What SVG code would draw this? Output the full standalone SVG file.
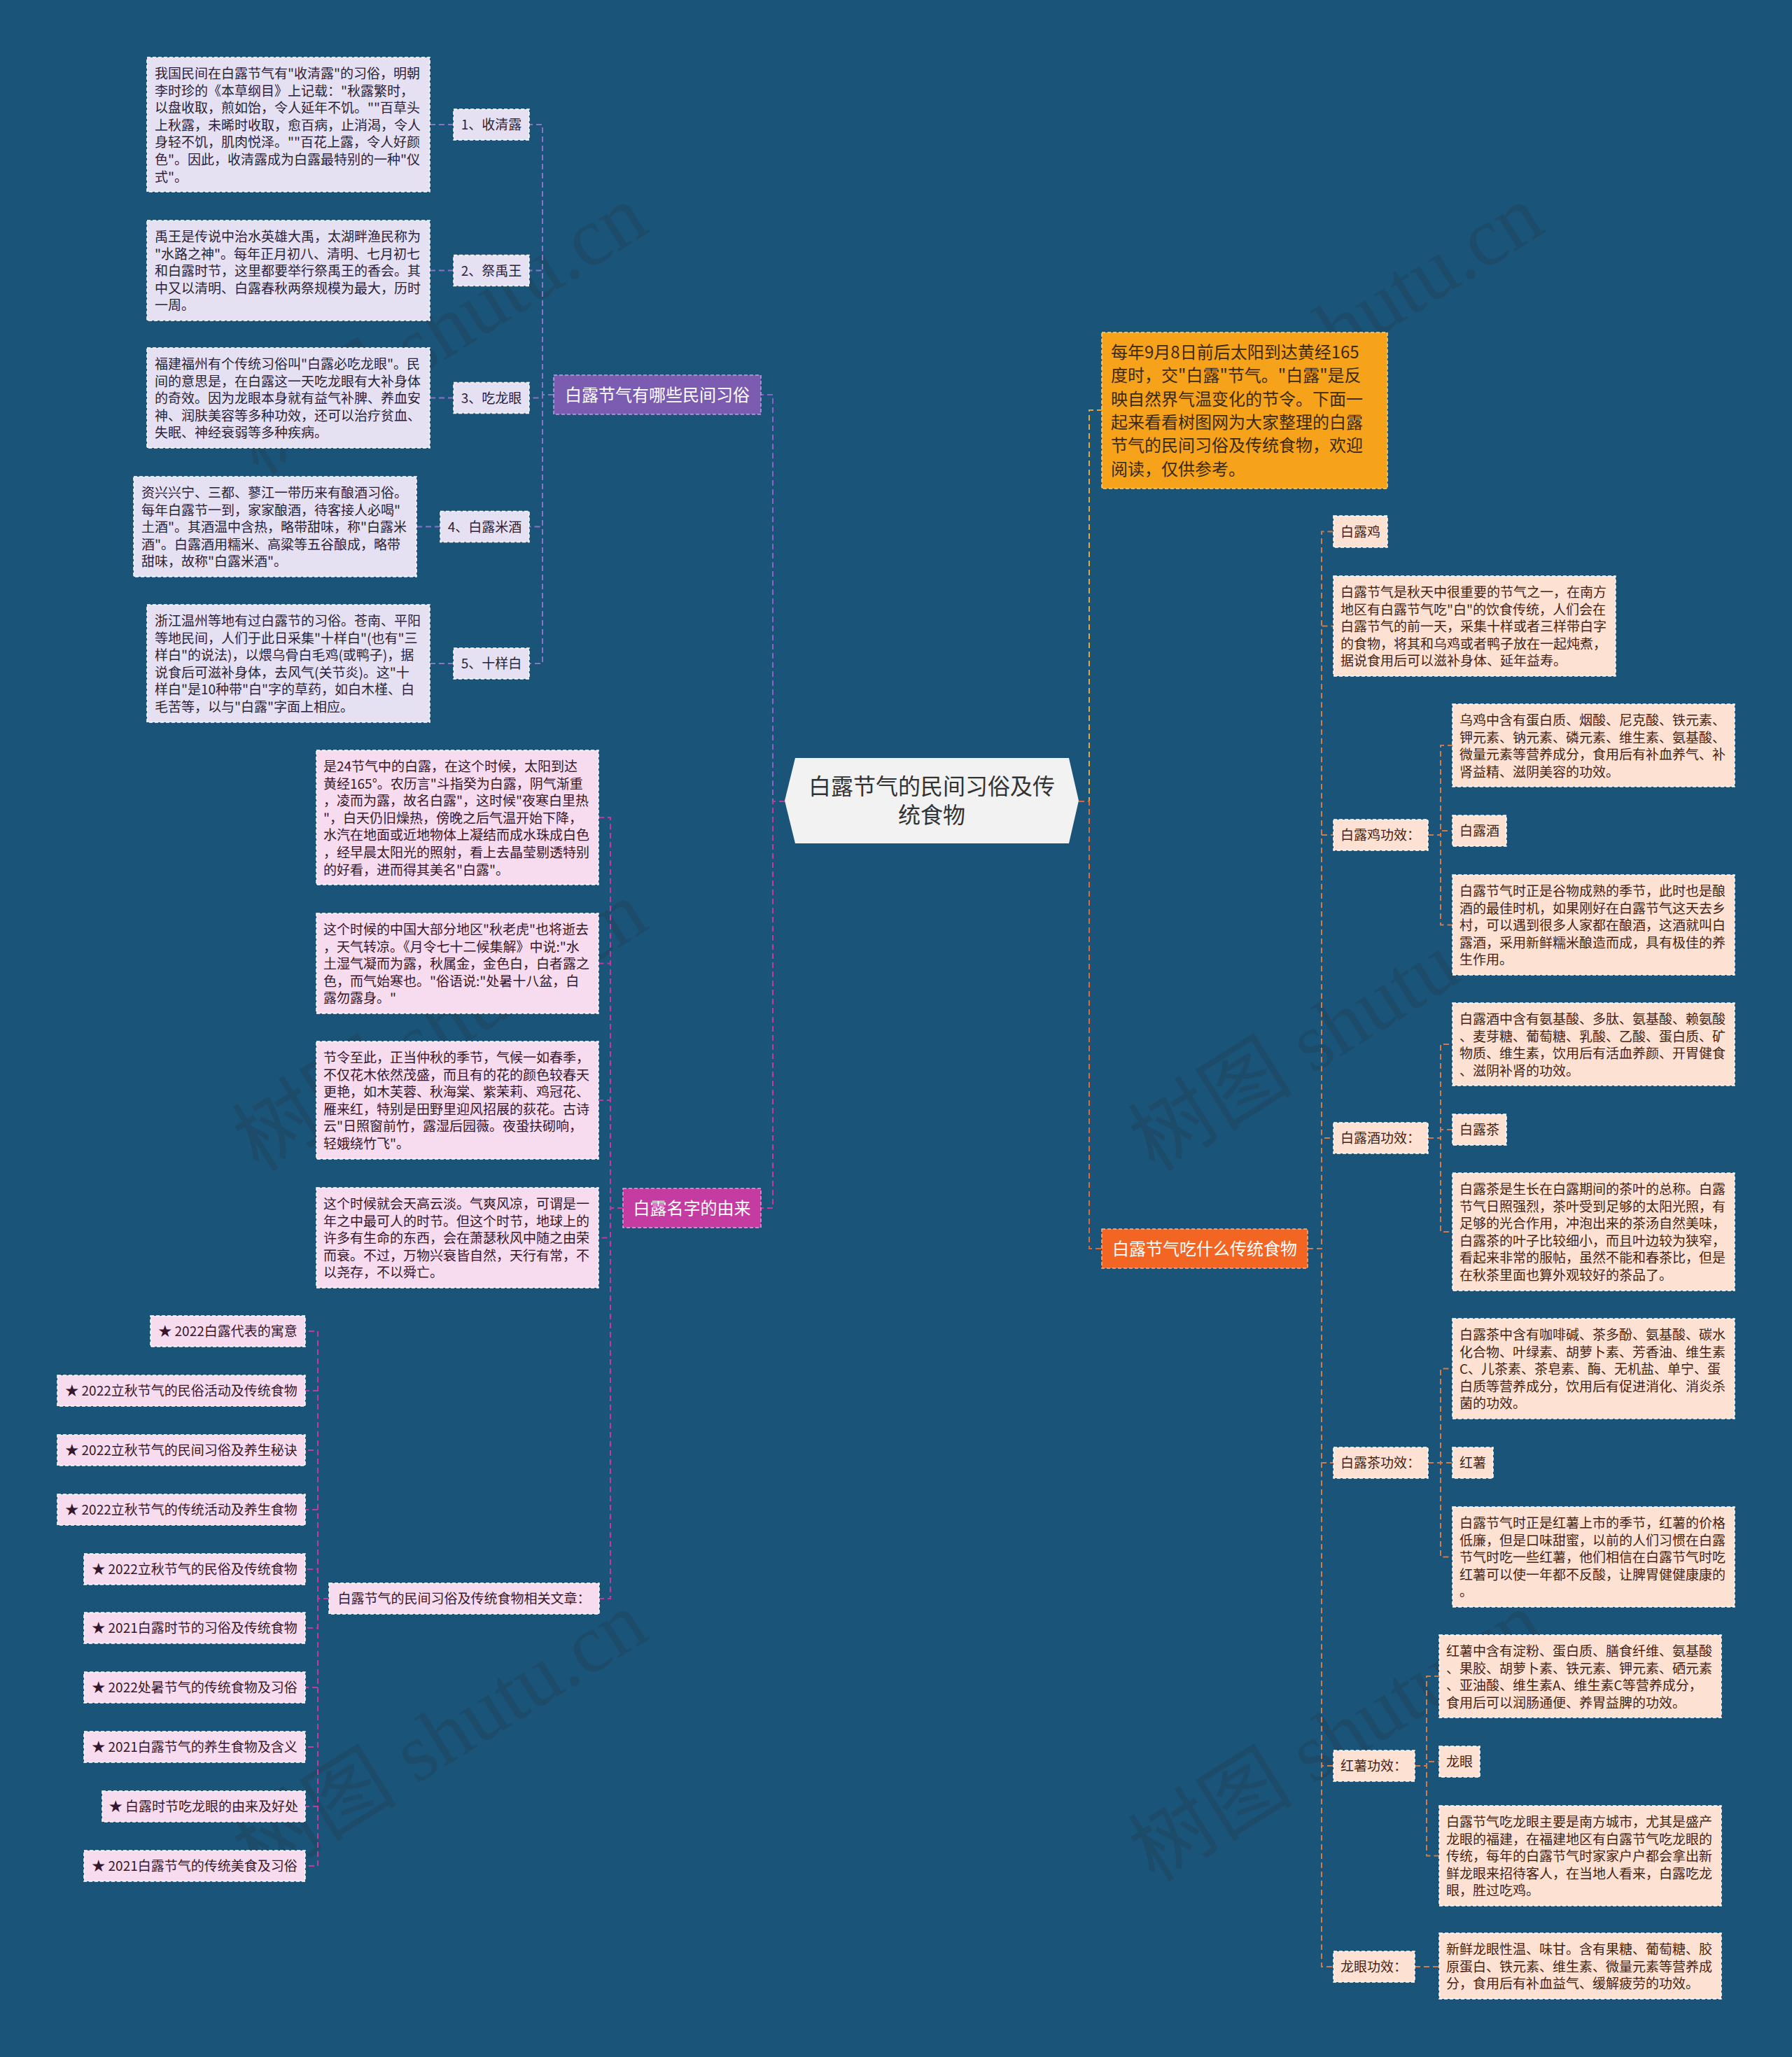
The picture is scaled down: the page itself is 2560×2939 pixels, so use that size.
<svg xmlns="http://www.w3.org/2000/svg" width="2560" height="2939" viewBox="0 0 2560 2939">
<style>
text{font-family:"Noto Sans CJK SC","Liberation Sans",sans-serif;}
.t{font-size:19px;}
.tl{fill:#2a2238;}
.tp{fill:#36162b;}
.tr{fill:#452212;}
.bl{fill:#e6e1f2;stroke:#ffffff;stroke-width:1.5;stroke-dasharray:5 3;}
.bp{fill:#f6dcee;stroke:#ffffff;stroke-width:1.5;stroke-dasharray:5 3;}
.br{fill:#fde2d4;stroke:#ffffff;stroke-width:1.5;stroke-dasharray:5 3;}
.c{fill:none;stroke-width:2;stroke-dasharray:8 5;}
.cpu{stroke:#8a74c6;}
.cmg{stroke:#c2399f;}
.cor{stroke:#cf7b4b;}
.wm{font-family:"Liberation Serif","Noto Sans CJK SC",serif;font-size:118px;fill:#2a2a2a;opacity:0.18;}
.mid{text-anchor:middle;}
</style>
<rect x="0" y="0" width="2560" height="2939" fill="#1a5479"/>

<g id="watermarks">
<text class="wm mid" transform="translate(650,505) rotate(-32)">树图 shutu.cn</text>
<text class="wm mid" transform="translate(1930,505) rotate(-32)">树图 shutu.cn</text>
<text class="wm mid" transform="translate(650,1500) rotate(-32)">树图 shutu.cn</text>
<text class="wm mid" transform="translate(1930,1500) rotate(-32)">树图 shutu.cn</text>
<text class="wm mid" transform="translate(650,2515) rotate(-32)">树图 shutu.cn</text>
<text class="wm mid" transform="translate(1930,2515) rotate(-32)">树图 shutu.cn</text>
</g>

<g id="connectors">
<path class="c" stroke="#8a63c8" d="M1121,1145 H1104 V564 H1087"/>
<path class="c" stroke="#c2399f" d="M1121,1145 H1104 V1726 H1087"/>
<path class="c" stroke="#eaa52a" d="M1541,1145 H1556 V586 H1574"/>
<path class="c" stroke="#e8662a" d="M1541,1145 H1556 V1784 H1574"/>

<path class="c cpu" d="M791,564 H775 V178 H756"/>
<path class="c cpu" d="M791,564 H775 V386.5 H756"/>
<path class="c cpu" d="M791,564 H775 V568.5 H756"/>
<path class="c cpu" d="M791,564 H775 V752.5 H756"/>
<path class="c cpu" d="M791,564 H775 V948 H756"/>
<path class="c cpu" d="M648,178 H614"/>
<path class="c cpu" d="M648,386.5 H614"/>
<path class="c cpu" d="M648,568.5 H614"/>
<path class="c cpu" d="M629,752.5 H595"/>
<path class="c cpu" d="M648,948 H614"/>

<path class="c cmg" d="M890,1726 H872 V1168 H855"/>
<path class="c cmg" d="M890,1726 H872 V1376.5 H855"/>
<path class="c cmg" d="M890,1726 H872 V1572 H855"/>
<path class="c cmg" d="M890,1726 H872 V1768.5 H855"/>
<path class="c cmg" d="M890,1726 H872 V2284 H856"/>

<path class="c cmg" d="M470,2284 H454 V1902 H436"/>
<path class="c cmg" d="M470,2284 H454 V1987 H436"/>
<path class="c cmg" d="M470,2284 H454 V2072 H436"/>
<path class="c cmg" d="M470,2284 H454 V2157 H436"/>
<path class="c cmg" d="M470,2284 H454 V2242 H436"/>
<path class="c cmg" d="M470,2284 H454 V2326 H436"/>
<path class="c cmg" d="M470,2284 H454 V2411 H436"/>
<path class="c cmg" d="M470,2284 H454 V2496 H436"/>
<path class="c cmg" d="M470,2284 H454 V2581 H436"/>
<path class="c cmg" d="M470,2284 H454 V2666 H436"/>

<path class="c cor" d="M1868,1784 H1888 V759.5 H1905"/>
<path class="c cor" d="M1868,1784 H1888 V894.5 H1905"/>
<path class="c cor" d="M1868,1784 H1888 V1193 H1905"/>
<path class="c cor" d="M1868,1784 H1888 V1626 H1905"/>
<path class="c cor" d="M1868,1784 H1888 V2090 H1905"/>
<path class="c cor" d="M1868,1784 H1888 V2523 H1905"/>
<path class="c cor" d="M1868,1784 H1888 V2810 H1905"/>

<path class="c cor" d="M2040,1193 H2058 V1065 H2075"/>
<path class="c cor" d="M2040,1193 H2058 V1187 H2075"/>
<path class="c cor" d="M2040,1193 H2058 V1321.5 H2075"/>
<path class="c cor" d="M2040,1626 H2058 V1492 H2075"/>
<path class="c cor" d="M2040,1626 H2058 V1614 H2075"/>
<path class="c cor" d="M2040,1626 H2058 V1760 H2075"/>
<path class="c cor" d="M2040,2090 H2058 V1955.5 H2075"/>
<path class="c cor" d="M2040,2090 H2058 V2090 H2075"/>
<path class="c cor" d="M2040,2090 H2058 V2224.5 H2075"/>
<path class="c cor" d="M2021,2523 H2038 V2395 H2056"/>
<path class="c cor" d="M2021,2523 H2038 V2517 H2056"/>
<path class="c cor" d="M2021,2523 H2038 V2651.5 H2056"/>
<path class="c cor" d="M2021,2810 H2056"/>
</g>

<g id="root">
<polygon points="1121,1144 1136,1083 1527,1083 1541,1144 1527,1205 1136,1205" fill="#f2f2f2"/>
<text class="mid" x="1331" y="1135" font-size="32" fill="#333333">白露节气的民间习俗及传</text>
<text class="mid" x="1331" y="1176" font-size="32" fill="#333333">统食物</text>
</g>

<g id="intro">
<rect x="1574" y="475" width="408" height="223" fill="#f7a21b" stroke="#fbd38a" stroke-width="1.5" stroke-dasharray="5 3"/>
<text x="1587" y="512" font-size="24" fill="#3a2a12"><tspan x="1587">每年9月8日前后太阳到达黄经165</tspan><tspan x="1587" dy="33.3">度时，交"白露"节气。"白露"是反</tspan><tspan x="1587" dy="33.3">映自然界气温变化的节令。下面一</tspan><tspan x="1587" dy="33.3">起来看看树图网为大家整理的白露</tspan><tspan x="1587" dy="33.3">节气的民间习俗及传统食物，欢迎</tspan><tspan x="1587" dy="33.3">阅读，仅供参考。</tspan></text>
</g>

<g id="branch-customs">
<rect x="791" y="536" width="296" height="56" fill="#7b5cb0" stroke="#b9a6dd" stroke-width="1.5" stroke-dasharray="5 3"/>
<text class="mid" x="939" y="572.5" font-size="24" fill="#ffffff">白露节气有哪些民间习俗</text>
</g>

<g id="label-1">
<rect class="bl" x="648" y="156" width="108" height="44"/>
<text class="t tl mid" x="702" y="185">1、收清露</text>
</g>
<g id="text-1">
<rect class="bl" x="210" y="82" width="404" height="192"/>
<text class="t tl" x="221" y="112"><tspan x="221">我国民间在白露节气有"收清露"的习俗，明朝</tspan><tspan x="221" dy="24.6">李时珍的《本草纲目》上记载："秋露繁时，</tspan><tspan x="221" dy="24.6">以盘收取，煎如饴，令人延年不饥。""百草头</tspan><tspan x="221" dy="24.6">上秋露，未晞时收取，愈百病，止消渴，令人</tspan><tspan x="221" dy="24.6">身轻不饥，肌肉悦泽。""百花上露，令人好颜</tspan><tspan x="221" dy="24.6">色"。因此，收清露成为白露最特别的一种"仪</tspan><tspan x="221" dy="24.6">式"。</tspan></text>
</g>

<g id="label-2">
<rect class="bl" x="648" y="364.5" width="108" height="44"/>
<text class="t tl mid" x="702" y="393.5">2、祭禹王</text>
</g>
<g id="text-2">
<rect class="bl" x="210" y="315" width="404" height="143"/>
<text class="t tl" x="221" y="345"><tspan x="221">禹王是传说中治水英雄大禹，太湖畔渔民称为</tspan><tspan x="221" dy="24.6">"水路之神"。每年正月初八、清明、七月初七</tspan><tspan x="221" dy="24.6">和白露时节，这里都要举行祭禹王的香会。其</tspan><tspan x="221" dy="24.6">中又以清明、白露春秋两祭规模为最大，历时</tspan><tspan x="221" dy="24.6">一周。</tspan></text>
</g>

<g id="label-3">
<rect class="bl" x="648" y="546.5" width="108" height="44"/>
<text class="t tl mid" x="702" y="575.5">3、吃龙眼</text>
</g>
<g id="text-3">
<rect class="bl" x="210" y="497" width="404" height="143"/>
<text class="t tl" x="221" y="527"><tspan x="221">福建福州有个传统习俗叫"白露必吃龙眼"。民</tspan><tspan x="221" dy="24.6">间的意思是，在白露这一天吃龙眼有大补身体</tspan><tspan x="221" dy="24.6">的奇效。因为龙眼本身就有益气补脾、养血安</tspan><tspan x="221" dy="24.6">神、润肤美容等多种功效，还可以治疗贫血、</tspan><tspan x="221" dy="24.6">失眠、神经衰弱等多种疾病。</tspan></text>
</g>

<g id="label-4">
<rect class="bl" x="629" y="730.5" width="127" height="44"/>
<text class="t tl mid" x="692.5" y="759.5">4、白露米酒</text>
</g>
<g id="text-4">
<rect class="bl" x="191" y="681" width="404" height="143"/>
<text class="t tl" x="202" y="711"><tspan x="202">资兴兴宁、三都、蓼江一带历来有酿酒习俗。</tspan><tspan x="202" dy="24.6">每年白露节一到，家家酿酒，待客接人必喝"</tspan><tspan x="202" dy="24.6">土酒"。其酒温中含热，略带甜味，称"白露米</tspan><tspan x="202" dy="24.6">酒"。白露酒用糯米、高粱等五谷酿成，略带</tspan><tspan x="202" dy="24.6">甜味，故称"白露米酒"。</tspan></text>
</g>

<g id="label-5">
<rect class="bl" x="648" y="926" width="108" height="44"/>
<text class="t tl mid" x="702" y="955">5、十样白</text>
</g>
<g id="text-5">
<rect class="bl" x="210" y="864" width="404" height="168"/>
<text class="t tl" x="221" y="894"><tspan x="221">浙江温州等地有过白露节的习俗。苍南、平阳</tspan><tspan x="221" dy="24.6">等地民间，人们于此日采集"十样白"(也有"三</tspan><tspan x="221" dy="24.6">样白"的说法)，以煨乌骨白毛鸡(或鸭子)，据</tspan><tspan x="221" dy="24.6">说食后可滋补身体，去风气(关节炎)。这"十</tspan><tspan x="221" dy="24.6">样白"是10种带"白"字的草药，如白木槿、白</tspan><tspan x="221" dy="24.6">毛苦等，以与"白露"字面上相应。</tspan></text>
</g>

<g id="branch-name">
<rect x="890" y="1698" width="197" height="56" fill="#c43ca2" stroke="#e79bd2" stroke-width="1.5" stroke-dasharray="5 3"/>
<text class="mid" x="988.5" y="1734.5" font-size="24" fill="#ffffff">白露名字的由来</text>
</g>

<g id="name-1">
<rect class="bp" x="452" y="1072" width="403" height="192"/>
<text class="t tp" x="462" y="1102"><tspan x="462">是24节气中的白露，在这个时候，太阳到达</tspan><tspan x="462" dy="24.6">黄经165°。农历言"斗指癸为白露，阴气渐重</tspan><tspan x="462" dy="24.6">，凌而为露，故名白露"，这时候"夜寒白里热</tspan><tspan x="462" dy="24.6">"，白天仍旧燥热，傍晚之后气温开始下降，</tspan><tspan x="462" dy="24.6">水汽在地面或近地物体上凝结而成水珠成白色</tspan><tspan x="462" dy="24.6">，经早晨太阳光的照射，看上去晶莹剔透特别</tspan><tspan x="462" dy="24.6">的好看，进而得其美名"白露"。</tspan></text>
</g>
<g id="name-2">
<rect class="bp" x="452" y="1305" width="403" height="143"/>
<text class="t tp" x="462" y="1335"><tspan x="462">这个时候的中国大部分地区"秋老虎"也将逝去</tspan><tspan x="462" dy="24.6">，天气转凉。《月令七十二候集解》中说:"水</tspan><tspan x="462" dy="24.6">土湿气凝而为露，秋属金，金色白，白者露之</tspan><tspan x="462" dy="24.6">色，而气始寒也。"俗语说:"处暑十八盆，白</tspan><tspan x="462" dy="24.6">露勿露身。"</tspan></text>
</g>
<g id="name-3">
<rect class="bp" x="452" y="1488" width="403" height="168"/>
<text class="t tp" x="462" y="1518"><tspan x="462">节令至此，正当仲秋的季节，气候一如春季，</tspan><tspan x="462" dy="24.6">不仅花木依然茂盛，而且有的花的颜色较春天</tspan><tspan x="462" dy="24.6">更艳，如木芙蓉、秋海棠、紫茉莉、鸡冠花、</tspan><tspan x="462" dy="24.6">雁来红，特别是田野里迎风招展的荻花。古诗</tspan><tspan x="462" dy="24.6">云"日照窗前竹，露湿后园薇。夜蛩扶砌响，</tspan><tspan x="462" dy="24.6">轻娥绕竹飞"。</tspan></text>
</g>
<g id="name-4">
<rect class="bp" x="452" y="1697" width="403" height="143"/>
<text class="t tp" x="462" y="1727"><tspan x="462">这个时候就会天高云淡。气爽风凉，可谓是一</tspan><tspan x="462" dy="24.6">年之中最可人的时节。但这个时节，地球上的</tspan><tspan x="462" dy="24.6">许多有生命的东西，会在萧瑟秋风中随之由荣</tspan><tspan x="462" dy="24.6">而衰。不过，万物兴衰皆自然，天行有常，不</tspan><tspan x="462" dy="24.6">以尧存，不以舜亡。</tspan></text>
</g>

<g id="related">
<rect class="bp" x="470" y="2262" width="386" height="44"/>
<text class="t tp mid" x="663" y="2291">白露节气的民间习俗及传统食物相关文章：</text>
</g>
<g id="rel-1"><rect class="bp" x="215" y="1880" width="221" height="44"/><text class="t tp mid" x="325.5" y="1909">★ 2022白露代表的寓意</text></g>
<g id="rel-2"><rect class="bp" x="82" y="1965" width="354" height="44"/><text class="t tp mid" x="259" y="1994">★ 2022立秋节气的民俗活动及传统食物</text></g>
<g id="rel-3"><rect class="bp" x="82" y="2050" width="354" height="44"/><text class="t tp mid" x="259" y="2079">★ 2022立秋节气的民间习俗及养生秘诀</text></g>
<g id="rel-4"><rect class="bp" x="82" y="2135" width="354" height="44"/><text class="t tp mid" x="259" y="2164">★ 2022立秋节气的传统活动及养生食物</text></g>
<g id="rel-5"><rect class="bp" x="120" y="2220" width="316" height="44"/><text class="t tp mid" x="278" y="2249">★ 2022立秋节气的民俗及传统食物</text></g>
<g id="rel-6"><rect class="bp" x="120" y="2304" width="316" height="44"/><text class="t tp mid" x="278" y="2333">★ 2021白露时节的习俗及传统食物</text></g>
<g id="rel-7"><rect class="bp" x="120" y="2389" width="316" height="44"/><text class="t tp mid" x="278" y="2418">★ 2022处暑节气的传统食物及习俗</text></g>
<g id="rel-8"><rect class="bp" x="120" y="2474" width="316" height="44"/><text class="t tp mid" x="278" y="2503">★ 2021白露节气的养生食物及含义</text></g>
<g id="rel-9"><rect class="bp" x="146" y="2559" width="290" height="44"/><text class="t tp mid" x="291" y="2588">★ 白露时节吃龙眼的由来及好处</text></g>
<g id="rel-10"><rect class="bp" x="120" y="2644" width="316" height="44"/><text class="t tp mid" x="278" y="2673">★ 2021白露节气的传统美食及习俗</text></g>

<g id="branch-food">
<rect x="1574" y="1756" width="294" height="56" fill="#f26522" stroke="#f9b08a" stroke-width="1.5" stroke-dasharray="5 3"/>
<text class="mid" x="1721" y="1792.5" font-size="24" fill="#ffffff">白露节气吃什么传统食物</text>
</g>

<g id="food-chicken"><rect class="br" x="1905" y="737" width="77" height="45"/><text class="t tr mid" x="1943.5" y="766.5">白露鸡</text></g>
<g id="food-chicken-text">
<rect class="br" x="1905" y="823" width="403" height="143"/>
<text class="t tr" x="1915" y="853"><tspan x="1915">白露节气是秋天中很重要的节气之一，在南方</tspan><tspan x="1915" dy="24.6">地区有白露节气吃"白"的饮食传统，人们会在</tspan><tspan x="1915" dy="24.6">白露节气的前一天，采集十样或者三样带白字</tspan><tspan x="1915" dy="24.6">的食物，将其和乌鸡或者鸭子放在一起炖煮，</tspan><tspan x="1915" dy="24.6">据说食用后可以滋补身体、延年益寿。</tspan></text>
</g>
<g id="chicken-effect"><rect class="br" x="1905" y="1171" width="135" height="44"/><text class="t tr" x="1915" y="1200">白露鸡功效：</text></g>
<g id="chicken-effect-text">
<rect class="br" x="2075" y="1006" width="403" height="118"/>
<text class="t tr" x="2085" y="1036"><tspan x="2085">乌鸡中含有蛋白质、烟酸、尼克酸、铁元素、</tspan><tspan x="2085" dy="24.6">钾元素、钠元素、磷元素、维生素、氨基酸、</tspan><tspan x="2085" dy="24.6">微量元素等营养成分，食用后有补血养气、补</tspan><tspan x="2085" dy="24.6">肾益精、滋阴美容的功效。</tspan></text>
</g>
<g id="food-wine"><rect class="br" x="2075" y="1165" width="77" height="44"/><text class="t tr mid" x="2113.5" y="1194">白露酒</text></g>
<g id="food-wine-text">
<rect class="br" x="2075" y="1250" width="403" height="143"/>
<text class="t tr" x="2085" y="1280"><tspan x="2085">白露节气时正是谷物成熟的季节，此时也是酿</tspan><tspan x="2085" dy="24.6">酒的最佳时机，如果刚好在白露节气这天去乡</tspan><tspan x="2085" dy="24.6">村，可以遇到很多人家都在酿酒，这酒就叫白</tspan><tspan x="2085" dy="24.6">露酒，采用新鲜糯米酿造而成，具有极佳的养</tspan><tspan x="2085" dy="24.6">生作用。</tspan></text>
</g>
<g id="wine-effect"><rect class="br" x="1905" y="1604" width="135" height="44"/><text class="t tr" x="1915" y="1633">白露酒功效：</text></g>
<g id="wine-effect-text">
<rect class="br" x="2075" y="1433" width="403" height="118"/>
<text class="t tr" x="2085" y="1463"><tspan x="2085">白露酒中含有氨基酸、多肽、氨基酸、赖氨酸</tspan><tspan x="2085" dy="24.6">、麦芽糖、葡萄糖、乳酸、乙酸、蛋白质、矿</tspan><tspan x="2085" dy="24.6">物质、维生素，饮用后有活血养颜、开胃健食</tspan><tspan x="2085" dy="24.6">、滋阴补肾的功效。</tspan></text>
</g>
<g id="food-tea"><rect class="br" x="2075" y="1592" width="77" height="44"/><text class="t tr mid" x="2113.5" y="1621">白露茶</text></g>
<g id="food-tea-text">
<rect class="br" x="2075" y="1676" width="403" height="168"/>
<text class="t tr" x="2085" y="1706"><tspan x="2085">白露茶是生长在白露期间的茶叶的总称。白露</tspan><tspan x="2085" dy="24.6">节气日照强烈，茶叶受到足够的太阳光照，有</tspan><tspan x="2085" dy="24.6">足够的光合作用，冲泡出来的茶汤自然美味，</tspan><tspan x="2085" dy="24.6">白露茶的叶子比较细小，而且叶边较为狭窄，</tspan><tspan x="2085" dy="24.6">看起来非常的服帖，虽然不能和春茶比，但是</tspan><tspan x="2085" dy="24.6">在秋茶里面也算外观较好的茶品了。</tspan></text>
</g>
<g id="tea-effect"><rect class="br" x="1905" y="2068" width="135" height="44"/><text class="t tr" x="1915" y="2097">白露茶功效：</text></g>
<g id="tea-effect-text">
<rect class="br" x="2075" y="1884" width="403" height="143"/>
<text class="t tr" x="2085" y="1914"><tspan x="2085">白露茶中含有咖啡碱、茶多酚、氨基酸、碳水</tspan><tspan x="2085" dy="24.6">化合物、叶绿素、胡萝卜素、芳香油、维生素</tspan><tspan x="2085" dy="24.6">C、儿茶素、茶皂素、酶、无机盐、单宁、蛋</tspan><tspan x="2085" dy="24.6">白质等营养成分，饮用后有促进消化、消炎杀</tspan><tspan x="2085" dy="24.6">菌的功效。</tspan></text>
</g>
<g id="food-potato"><rect class="br" x="2075" y="2068" width="58" height="44"/><text class="t tr mid" x="2104" y="2097">红薯</text></g>
<g id="food-potato-text">
<rect class="br" x="2075" y="2153" width="403" height="143"/>
<text class="t tr" x="2085" y="2183"><tspan x="2085">白露节气时正是红薯上市的季节，红薯的价格</tspan><tspan x="2085" dy="24.6">低廉，但是口味甜蜜，以前的人们习惯在白露</tspan><tspan x="2085" dy="24.6">节气时吃一些红薯，他们相信在白露节气时吃</tspan><tspan x="2085" dy="24.6">红薯可以使一年都不反酸，让脾胃健健康康的</tspan><tspan x="2085" dy="24.6">。</tspan></text>
</g>
<g id="potato-effect"><rect class="br" x="1905" y="2501" width="116" height="44"/><text class="t tr" x="1915" y="2530">红薯功效：</text></g>
<g id="potato-effect-text">
<rect class="br" x="2056" y="2336" width="403" height="118"/>
<text class="t tr" x="2066" y="2366"><tspan x="2066">红薯中含有淀粉、蛋白质、膳食纤维、氨基酸</tspan><tspan x="2066" dy="24.6">、果胶、胡萝卜素、铁元素、钾元素、硒元素</tspan><tspan x="2066" dy="24.6">、亚油酸、维生素A、维生素C等营养成分，</tspan><tspan x="2066" dy="24.6">食用后可以润肠通便、养胃益脾的功效。</tspan></text>
</g>
<g id="food-longan"><rect class="br" x="2056" y="2495" width="58" height="44"/><text class="t tr mid" x="2085" y="2524">龙眼</text></g>
<g id="food-longan-text">
<rect class="br" x="2056" y="2580" width="403" height="143"/>
<text class="t tr" x="2066" y="2610"><tspan x="2066">白露节气吃龙眼主要是南方城市，尤其是盛产</tspan><tspan x="2066" dy="24.6">龙眼的福建，在福建地区有白露节气吃龙眼的</tspan><tspan x="2066" dy="24.6">传统，每年的白露节气时家家户户都会拿出新</tspan><tspan x="2066" dy="24.6">鲜龙眼来招待客人，在当地人看来，白露吃龙</tspan><tspan x="2066" dy="24.6">眼，胜过吃鸡。</tspan></text>
</g>
<g id="longan-effect"><rect class="br" x="1905" y="2788" width="116" height="44"/><text class="t tr" x="1915" y="2817">龙眼功效：</text></g>
<g id="longan-effect-text">
<rect class="br" x="2056" y="2762" width="403" height="94"/>
<text class="t tr" x="2066" y="2792"><tspan x="2066">新鲜龙眼性温、味甘。含有果糖、葡萄糖、胶</tspan><tspan x="2066" dy="24.6">原蛋白、铁元素、维生素、微量元素等营养成</tspan><tspan x="2066" dy="24.6">分，食用后有补血益气、缓解疲劳的功效。</tspan></text>
</g>
</svg>
